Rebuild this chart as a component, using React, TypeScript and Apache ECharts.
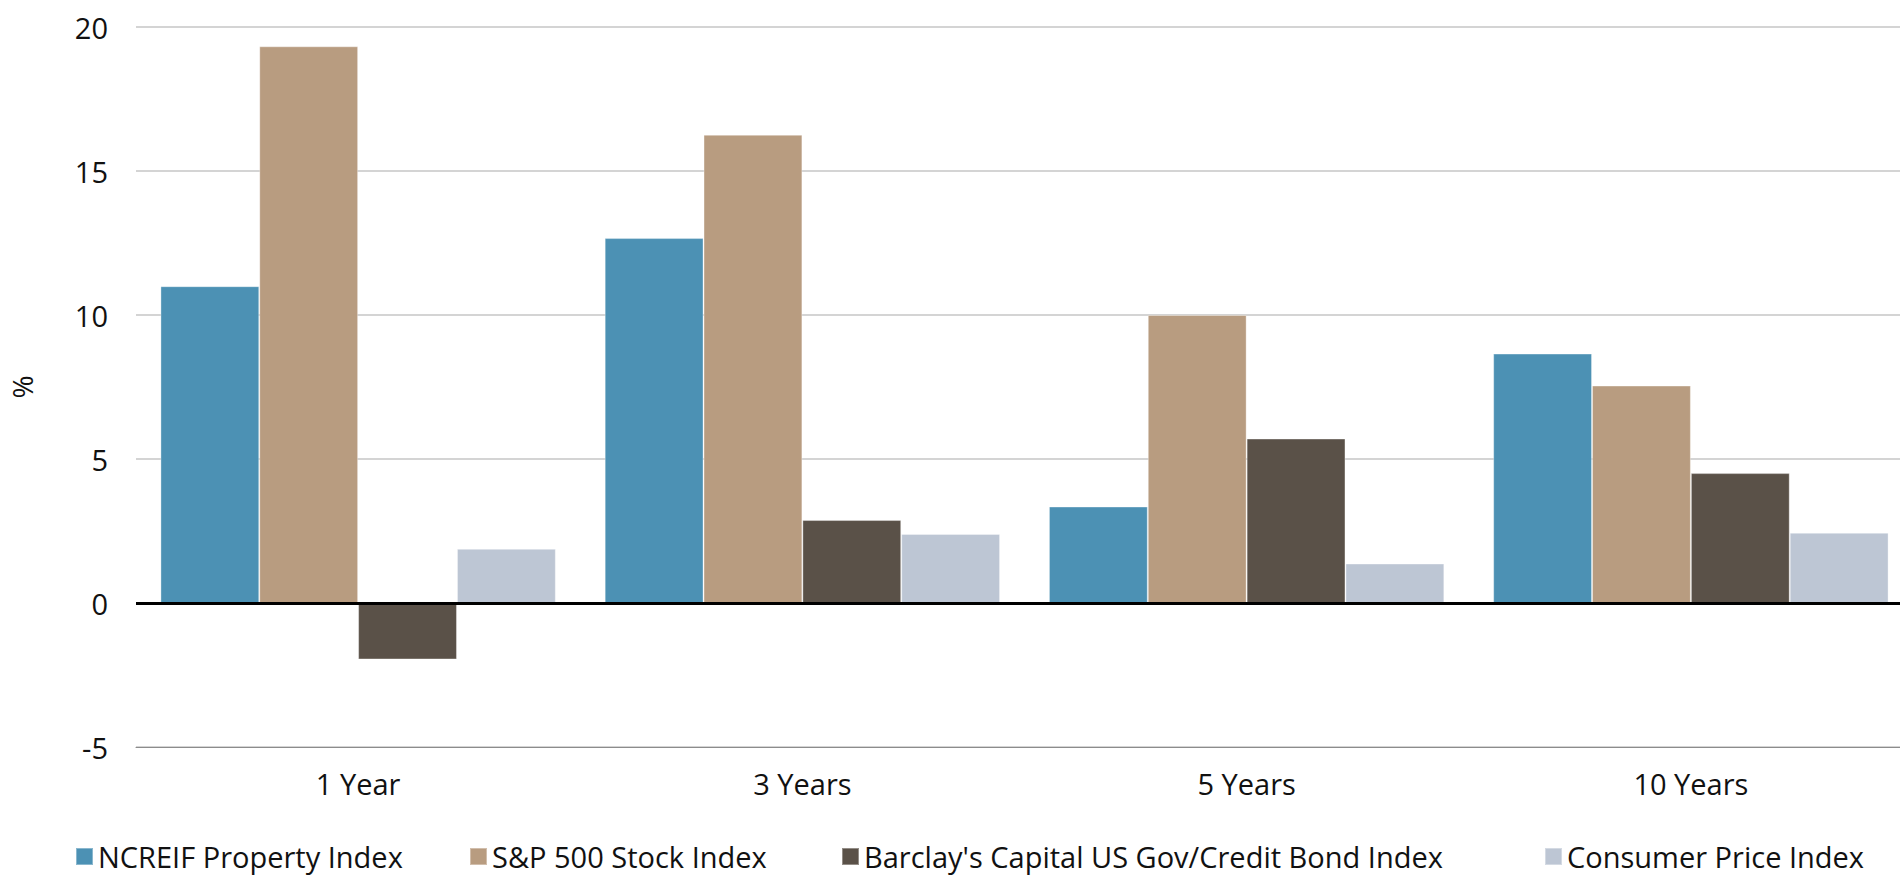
import React, { useEffect, useRef } from "react";
import * as echarts from "echarts";

// Annualised returns by holding period (%)
const periods = ["1 Year", "3 Years", "5 Years", "10 Years"];
const seriesNames = [
  "NCREIF Property Index",
  "S&P 500 Stock Index",
  "Barclay's Capital US Gov/Credit Bond Index",
  "Consumer Price Index",
];
const ncreif = [11.0, 12.67, 3.35, 8.66];
const sp500 = [19.33, 16.26, 10.0, 7.55];
const barclays = [-1.96, 2.88, 5.71, 4.51];
const cpi = [1.88, 2.4, 1.37, 2.44];
const seriesColors = ["#4C91B4", "#B89C80", "#5A5148", "#BDC6D4"];

const yMin = -5;
const yMax = 20;
const yStep = 5;

// left edge of each legend entry
const legendLefts = [75, 469, 841, 1544];

const FONT = "'Open Sans', 'Noto Sans', sans-serif";
const TEXT_COLOR = "#111";

export default function App() {
  const ref = useRef<HTMLDivElement>(null);

  useEffect(() => {
    if (!ref.current) return;
    const chart = echarts.init(ref.current, null, { renderer: "svg" });
    const values = [ncreif, sp500, barclays, cpi];

    chart.setOption({
      animation: false,
      textStyle: { fontFamily: FONT },
      grid: { left: 129, top: 27, width: 1784, height: 720, containLabel: false },
      legend: seriesNames.map((name, i) => ({
        left: legendLefts[i],
        top: 842,
        padding: 0,
        itemWidth: 17,
        itemHeight: 17,
        icon: "rect",
        data: [name],
        textStyle: {
          fontFamily: FONT,
          fontSize: 29,
          color: TEXT_COLOR,
        },
      })),
      xAxis: {
        type: "category",
        data: periods,
        axisLine: { onZero: false, lineStyle: { color: "#8C8C8C", width: 1 } },
        axisTick: { show: false },
        axisLabel: { fontSize: 29, color: TEXT_COLOR, margin: 22, fontFamily: FONT },
        splitLine: { show: false },
      },
      yAxis: {
        type: "value",
        min: yMin,
        max: yMax,
        interval: yStep,
        name: "%",
        nameLocation: "middle",
        nameGap: 100,
        nameRotate: 90,
        nameTextStyle: { fontSize: 28, color: TEXT_COLOR, fontFamily: FONT },
        axisLine: { show: false },
        axisTick: { show: false },
        axisLabel: { fontSize: 29, color: TEXT_COLOR, margin: 28, fontFamily: FONT },
        splitLine: { lineStyle: { color: "#C6C6C6", width: 1.5 } },
      },
      series: seriesNames.map((name, i) => ({
        name,
        type: "bar",
        data: values[i],
        barGap: "0%",
        barCategoryGap: "11%",
        itemStyle: {
          color: seriesColors[i],
          borderColor: "rgba(255,255,255,0.35)",
          borderWidth: 1,
        },
        ...(i === 0
          ? {
              markLine: {
                silent: true,
                symbol: "none",
                label: { show: false },
                lineStyle: { color: "#000", width: 3, type: "solid" },
                data: [{ yAxis: 0 }],
                z: 10,
              },
            }
          : {}),
      })),
    });

    return () => chart.dispose();
  }, []);

  return (
    <div
      style={{
        position: "absolute",
        left: 0,
        top: 0,
        width: 1900,
        height: 878,
        overflow: "hidden",
        background: "#fff",
      }}
    >
      <div ref={ref} style={{ width: 1914, height: 878 }} />
    </div>
  );
}
